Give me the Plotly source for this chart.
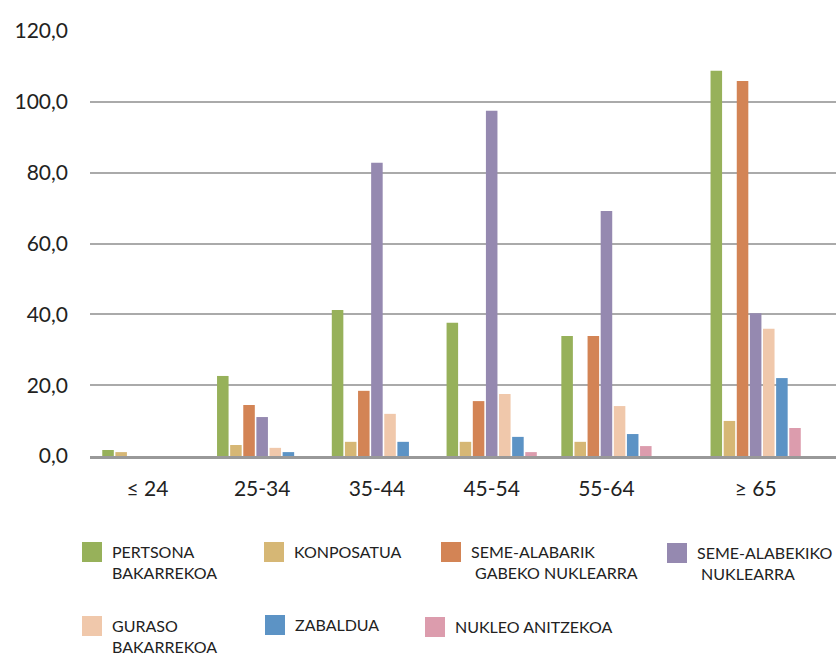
import plotly.graph_objects as go

# ---- data ----
categories = ["≤ 24", "25-34", "35-44", "45-54", "55-64", "≥ 65"]
series_names = [
    "PERTSONA<br>BAKARREKOA",
    "KONPOSATUA",
    "SEME-ALABARIK<br> GABEKO NUKLEARRA",
    "SEME-ALABEKIKO<br> NUKLEARRA",
    "GURASO<br>BAKARREKOA",
    "ZABALDUA",
    "NUKLEO ANITZEKOA",
]
pertsona_bakarrekoa = [1.7, 22.6, 41.2, 37.6, 33.9, 108.8]
konposatua = [1.1, 3.1, 4.0, 4.0, 4.0, 9.9]
seme_alabarik_gabeko = [0.0, 14.4, 18.4, 15.5, 33.9, 105.9]
seme_alabekiko = [0.0, 11.0, 82.8, 97.5, 69.2, 40.3]
guraso_bakarrekoa = [0.0, 2.3, 11.9, 17.5, 14.1, 35.9]
zabaldua = [0.0, 1.1, 4.0, 5.4, 6.2, 22.0]
nukleo_anitzekoa = [0.0, 0.0, 0.0, 1.1, 2.8, 7.9]

series_values = [pertsona_bakarrekoa, konposatua, seme_alabarik_gabeko,
                 seme_alabekiko, guraso_bakarrekoa, zabaldua, nukleo_anitzekoa]

# ---- styles / layout ----
colors = ["#97b15a", "#d6b775", "#d38455", "#9589b0", "#f0c8ab", "#5c93c5", "#dc9cad"]
group_pos = [0, 1, 2, 3, 4, 5.3]
W, H = 838, 655
ML, MR, MT, MB = 90, 2, 31, 199
PW, PH = W - ML - MR, H - MT - MB
# legend item anchor (left, top) in page pixels
legend_px = [(72, 535), (254, 535), (431, 535), (657, 536),
             (72, 609), (255, 608), (415, 610)]
FONT = "Lato, 'Noto Sans', sans-serif"

fig = go.Figure()
for i, (name, vals) in enumerate(zip(series_names, series_values)):
    fig.add_trace(go.Bar(
        x=group_pos, y=vals, name=name, marker_color=colors[i],
        marker_line_width=0, showlegend=False, legendgroup=f"g{i}",
    ))
# legend swatches: square markers on a hidden, out-of-view axis pair
for i, name in enumerate(series_names):
    lg = "legend" if i == 0 else f"legend{i+1}"
    fig.add_trace(go.Scatter(
        x=[0], y=[0], mode="markers", name=name, xaxis="x2", yaxis="y2",
        marker=dict(symbol="square", size=16, color=colors[i],
                    line=dict(width=4, color=colors[i])),
        legend=lg, legendgroup=f"g{i}", showlegend=True, hoverinfo="skip",
        cliponaxis=True,
    ))

layout_legends = {}
for i, (px, py) in enumerate(legend_px):
    key = "legend" if i == 0 else f"legend{i+1}"
    layout_legends[key] = dict(
        xref="paper", yref="paper",
        x=(px - ML) / PW, y=(H - MB - py) / PH, xanchor="left", yanchor="top",
        bgcolor="rgba(0,0,0,0)", borderwidth=0, valign="top",
        font=dict(family=FONT, size=16, color="#222222"),
        itemclick=False, itemdoubleclick=False,
    )

fig.update_layout(
    width=W, height=H,
    margin=dict(l=ML, r=MR, t=MT, b=MB, autoexpand=False),
    paper_bgcolor="white", plot_bgcolor="white",
    barmode="group", bargap=0.2, bargroupgap=0.12,
    separators=", ",
    font=dict(family=FONT, size=21, color="#222222"),
    xaxis=dict(
        range=[-0.5, 6.0], tickvals=group_pos, ticktext=categories,
        showgrid=False, zeroline=False, showline=True,
        linecolor="#999999", linewidth=3, ticks="",
        ticklabelstandoff=12,
        tickfont=dict(family=FONT, size=21, color="#222222"),
    ),
    yaxis=dict(
        range=[0, 120], dtick=20, tickformat=".1f",
        showgrid=True, gridcolor="#aaaaaa", gridwidth=2,
        zeroline=False, showline=False, ticks="",
        ticklabelstandoff=21,
        tickfont=dict(family=FONT, size=21, color="#222222"),
    ),
    xaxis2=dict(overlaying="x", range=[10, 11], visible=False, fixedrange=True),
    yaxis2=dict(overlaying="y", range=[10, 11], visible=False, fixedrange=True),
    **layout_legends,
)

fig.write_html("out.html")
